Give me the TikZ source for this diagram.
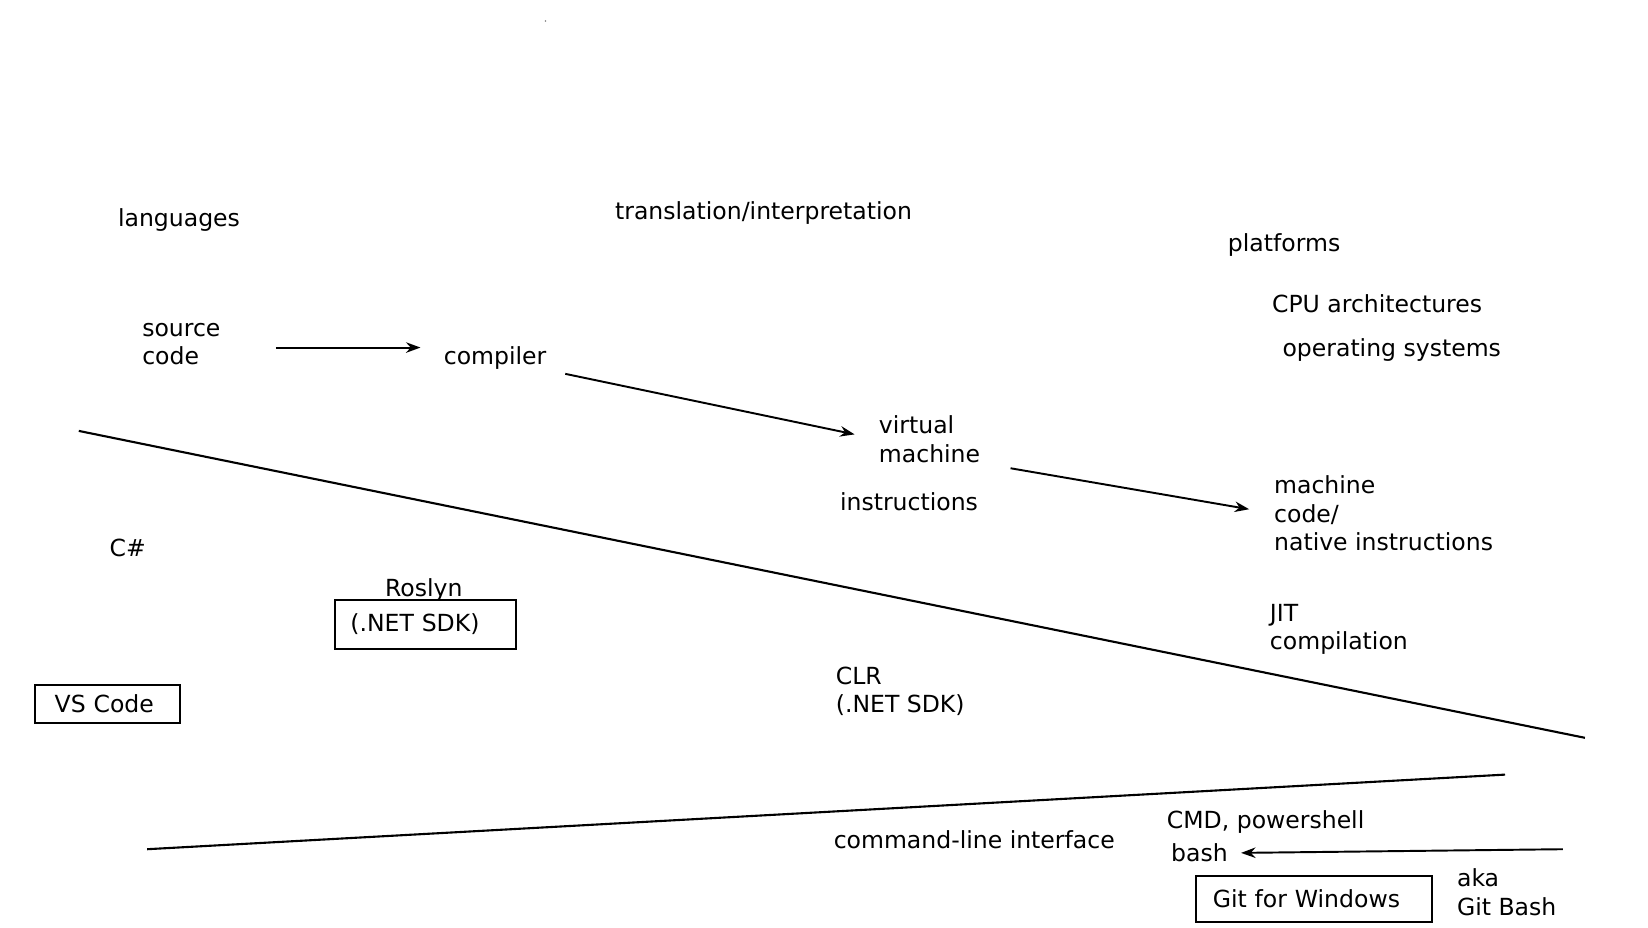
\documentclass[tikz,border=0pt]{standalone}
\usepackage{fontspec}
\setmainfont{DejaVu Sans}
\usetikzlibrary{arrows.meta}

\tikzset{
  lbl/.style={inner sep=0pt, anchor=base west, align=left, font=\fontsize{13.4}{16.2}\selectfont},
  boxed/.style={draw, line width=1.1pt, inner ysep=0pt, align=left, font=\fontsize{13.4}{16.2}\selectfont},
  arr/.style={line width=1.1pt, -{Stealth[length=2.9mm, width=2.1mm]}},
  divider/.style={line width=1.2pt},
}

\begin{document}
\begin{tikzpicture}[x=0.02cm, y=-0.02cm]
    \useasboundingbox (0,0) rectangle (1648,927);

    \fill[gray] (545.5,21) circle (0.5pt);

    \node[lbl] (lang) at (117.7,226) {languages};
    \node[lbl] (trans) at (614.8,219.7) {translation/interpretation};
    \node[lbl] (plat) at (1227.6,251) {platforms};
    \node[lbl] (cpu) at (1271.7,312) {CPU architectures};
    \node[lbl] (os) at (1282.2,356) {operating systems};

    \node[lbl] (src) at (141.9,364.7) {source\\code};
    \node[lbl] (cmp) at (443.5,364.7) {compiler};
    \node[lbl] (vm) at (878.6,462.4) {virtual\\machine};
    \node[lbl] (instr) at (839.7,510.8) {instructions};
    \node[lbl] (mc) at (1273.8,550.7) {machine\\code/\\native instructions};

    \draw[arr, shorten <=11mm, shorten >=4.6mm] ([yshift=-0.7mm]src.east) -- ([yshift=-0.7mm]src.east -| cmp.west);
    \draw[arr, shorten <=3.8mm, shorten >=4.9mm] (cmp.south east) -- (vm.west);
    \draw[arr, shorten <=6.1mm, shorten >=5mm] (vm.south east) -- (mc.west);

    \coordinate (d1a) at (78.8,430.9);
    \coordinate (d1b) at (1584.9,737.8);
    \draw[divider] (d1a) -- (d1b);

    \node[lbl] (cs) at (109.3,556) {C\#};
    \node[lbl] (roslyn) at (384.7,596) {Roslyn};
    \node[boxed, text width=3.01cm, inner xsep=0.3cm, minimum height=0.97cm] (sdk) at (425.6,624.3) {(.NET SDK)};
    \node[boxed, text width=2.1cm, inner xsep=0.4cm, minimum height=0.76cm] (vsc) at (107.2,704.2) {VS Code};

    \node[lbl] (jit) at (1269.6,649.5) {JIT\\compilation};
    \node[lbl] (clr) at (835.5,712.6) {CLR\\(.NET SDK)};

    \coordinate (d2a) at (147.1,849.2);
    \coordinate (d2b) at (1505,774.6);
    \draw[divider] (d2a) -- (d2b);

    \node[lbl] (cli) at (833.4,848) {command-line interface};
    \node[lbl] (cmd) at (1166.6,828) {CMD, powershell};
    \node[lbl] (bash) at (1170.8,861.8) {bash};
    \node[boxed, text width=4.04cm, inner xsep=0.34cm, minimum height=0.92cm] (git) at (1313.8,898.6) {Git for Windows};
    \node[lbl] (aka) at (1456.7,915.4) {aka\\Git Bash};

    \coordinate (gitsrc) at (1562.8,849.2);
    \draw[arr, shorten >=2.6mm] (gitsrc) -- (bash.east);
\end{tikzpicture}
\end{document}
